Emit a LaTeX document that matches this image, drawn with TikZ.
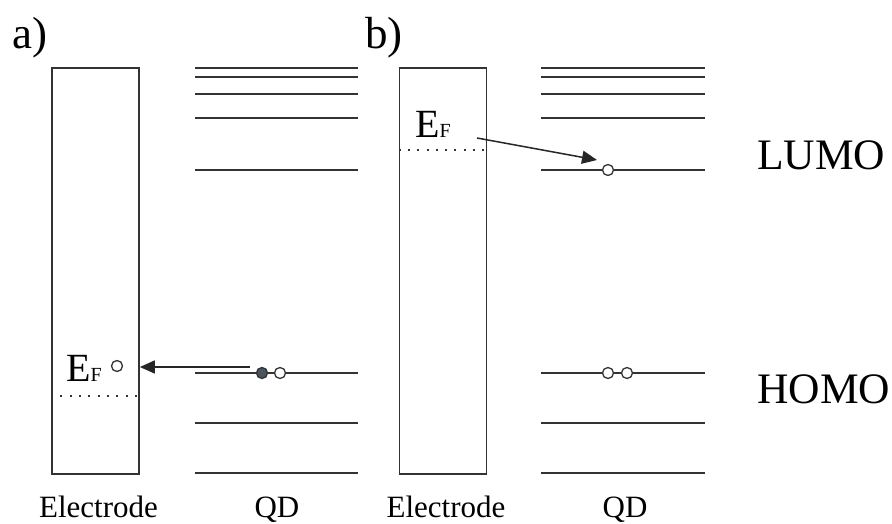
\documentclass[tikz,border=0pt]{standalone}
\usepackage{fontspec}
\setmainfont{Liberation Serif}
\usetikzlibrary{arrows.meta}
\definecolor{slate}{RGB}{74,85,96}
\tikzset{
  lvl/.style={line width=1.8pt,draw=black!80},
  electrode/.style={draw=black!80,line width=1.7pt,minimum width=87pt,minimum height=406pt,inner sep=0pt},
  fermi/.style={line width=1.9pt,draw=black!80,dash pattern=on 2pt off 7.3pt},
  hole/.style={circle,draw=black!80,fill=white,line width=1.3pt,minimum size=11pt,inner sep=0pt},
  elec/.style={hole,fill=slate},
  hop/.style={line width=1.5pt,draw=black!85,-{Triangle[length=15pt,width=13pt]}},
  big/.style={font=\fontsize{43.5}{44}\selectfont,anchor=base west,inner sep=0pt},
  caption/.style={font=\fontsize{31}{31}\selectfont,anchor=base,inner sep=0pt},
  panel/.style={font=\fontsize{45}{45}\selectfont,anchor=base west,inner sep=0pt}
}
\newcommand{\EF}{{\fontsize{40}{40}\selectfont E}{\fontsize{20}{20}\selectfont F}}
\begin{document}
\begin{tikzpicture}[x=1pt,y=-1pt]
\useasboundingbox (0,0) rectangle (892,524);
% panel labels
\node[panel] (la) at (12,49) {a)};
\node[panel] (lb) at (365,49) {b)};
% electrodes
\node[electrode] (elA) at (95.5,271) {};
\node[electrode] (elB) at (443,271) {};
% quantum dot levels
\foreach \Y in {68,77,94,118,170,373,423,473}{
\draw[lvl] (195,\Y)--(358,\Y);
\draw[lvl] (541,\Y)--(705,\Y);}
% Fermi levels
\draw[fermi] (elA.west|-0,396)--(elA.east|-0,396);
\draw[fermi] (elB.west|-0,150)--(elB.east|-0,150);
\node[anchor=base west,inner sep=0pt] (efA) at (66,381) {\EF};
\node[anchor=base west,inner sep=0pt] (efB) at (415,138) {\EF};
% electrons and holes
\node[hole] (hA) at (117,366) {};
\node[elec] (eA) at (262,373) {};
\node[hole] (qA) at (280,373) {};
\node[hole] (qB) at (608,170) {};
\node[hole] (qB1) at (608,373) {};
\node[hole] (qB2) at (627,373) {};
% transfer arrows
\coordinate (sA) at (250,367);
\coordinate (tA) at (elA.east|-0,367);
\coordinate (sB) at (477,138);
\coordinate (tB) at (597,160);
\draw[hop] (sA)--(tA);
\draw[hop] (sB)--(tB);
% labels
\node[big] (lumo) at (757,170) {LUMO};
\node[big] (homo) at (757,403) {HOMO};
\node[caption] (cA) at (98.5,517) {Electrode};
\node[caption] (qdA) at (277,517) {QD};
\node[caption] (cB) at (446,517) {Electrode};
\node[caption] (qdB) at (625,517) {QD};
\end{tikzpicture}
\end{document}
